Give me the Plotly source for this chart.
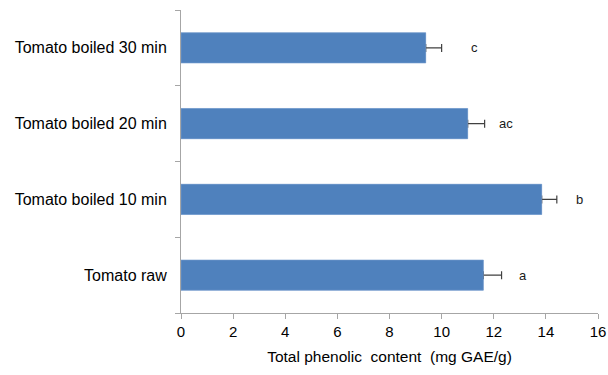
import plotly.graph_objects as go

categories = ["Tomato raw", "Tomato boiled 10 min", "Tomato boiled 20 min", "Tomato boiled 30 min"]
values = [11.6, 13.84, 11.0, 9.39]
errors = [0.7, 0.58, 0.65, 0.61]
letters = ["a", "b", "ac", "c"]
letter_x = [13.12, 15.29, 12.47, 11.28]
x_ticks = [0, 2, 4, 6, 8, 10, 12, 14, 16]

fig = go.Figure()
# bars carrying the (plus-only) error bars
fig.add_trace(go.Bar(
    y=categories, x=values, orientation="h",
    marker=dict(color="#4F81BD", line=dict(width=0)),
    width=0.4,
    error_x=dict(type="data", array=errors, arrayminus=[0] * len(errors), symmetric=False,
                 color="#404040", thickness=1.2, width=4),
    showlegend=False, hoverinfo="skip",
))
# identical bars on top to hide the cap at the bar end
fig.add_trace(go.Bar(
    y=categories, x=values, orientation="h",
    marker=dict(color="#4F81BD", line=dict(color="#7A9FD0", width=0.6)),
    width=0.4,
    showlegend=False,
))

for lab, lx, cat in zip(letters, letter_x, categories):
    fig.add_annotation(x=lx, y=cat, text=lab, showarrow=False,
                       font=dict(family="Liberation Sans, Arial", size=13, color="#1a1a1a"),
                       xanchor="center", yanchor="middle")

fig.update_layout(
    width=608, height=375,
    margin=dict(l=181, r=10, t=10, b=62, autoexpand=False),
    paper_bgcolor="white", plot_bgcolor="white",
    font=dict(family="Liberation Sans, Arial", size=16, color="#000000"),
    barmode="overlay",
)
fig.update_xaxes(
    range=[0, 16], tickvals=x_ticks, ticktext=[str(t) for t in x_ticks],
    showgrid=False, zeroline=False, automargin=False,
    showline=True, linecolor="#A6A6A6", linewidth=1,
    ticks="outside", ticklen=5, tickcolor="#A6A6A6",
    tickfont=dict(size=15),
    title=dict(text="Total phenolic  content  (mg GAE/g)", font=dict(size=15.5), standoff=12),
)
fig.update_yaxes(
    type="category", categoryorder="array", categoryarray=categories,
    showgrid=False, zeroline=False, automargin=False,
    showline=True, linecolor="#A6A6A6", linewidth=1,
    ticks="outside", ticklen=5, tickcolor="#A6A6A6", tickson="boundaries",
    tickfont=dict(size=16), ticklabelstandoff=10,
)

post = ("document.body.style.margin='0';"
        "document.documentElement.style.overflow='hidden';"
        "document.body.style.overflow='hidden';")
fig.write_html("out.html", post_script=post, config={"displayModeBar": False})
